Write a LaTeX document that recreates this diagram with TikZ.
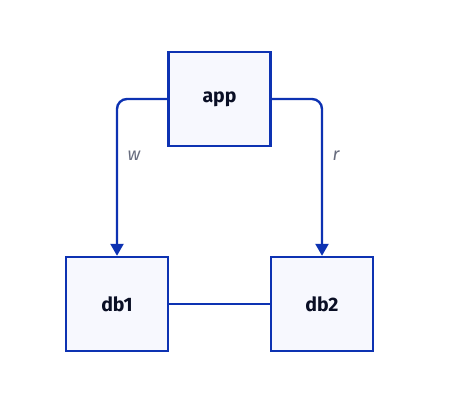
\documentclass[tikz,border=0pt]{standalone}
\usepackage{fontspec}
\setmainfont{Fira Sans}
\usetikzlibrary{arrows.meta}

\begin{document}
\begin{tikzpicture}[x=1pt, y=-1pt,
		shapebox/.style={
			rectangle, draw=linecol, fill=fillcol, line width=2.4pt,
			minimum width=102pt, minimum height=94pt, inner sep=0pt,
			font=\fontsize{19.5}{22}\selectfont\bfseries, text=textcol
		},
		conn/.style={
			draw=linecol, line width=2.4pt, rounded corners=10pt
		},
		edgelabel/.style={
			font=\fontsize{18}{21}\selectfont\itshape, text=labelcol
		}
		]
		
		\definecolor{linecol}{HTML}{0D32B2}
		\definecolor{fillcol}{HTML}{F7F8FE}
		\definecolor{textcol}{HTML}{0A0F25}
		\definecolor{labelcol}{HTML}{676C7E}
		
		\useasboundingbox (0,0) rectangle (457,419);
		
		\node[shapebox] (app) at (219.5, 99) {app};
		\node[shapebox] (db1) at (117,  304) {db1};
		\node[shapebox] (db2) at (322,  304) {db2};
		
		\draw[conn, -{Triangle[length=12pt, width=13pt]}] (app.west) -| (db1.north)
			node[pos=0.68, edgelabel, right=6pt] {w};
		\draw[conn, -{Triangle[length=12pt, width=13pt]}] (app.east) -| (db2.north)
			node[pos=0.68, edgelabel, right=6pt] {r};
		\draw[conn] (db1) -- (db2);
		
	\end{tikzpicture}
\end{document}
